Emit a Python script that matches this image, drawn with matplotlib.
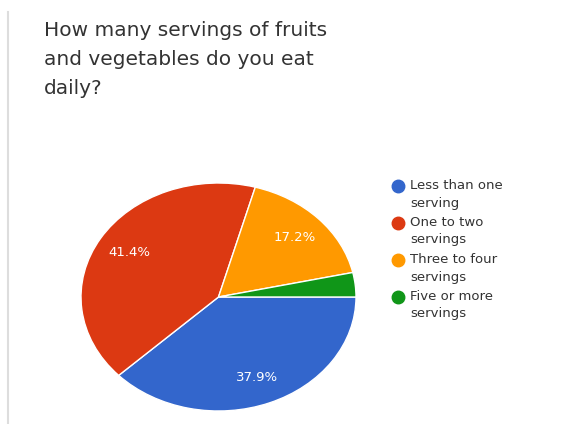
import matplotlib.pyplot as plt
from matplotlib.lines import Line2D

TITLE = "How many servings of fruits\nand vegetables do you eat\ndaily?"
CATEGORIES = [
    "Less than one\nserving",
    "One to two\nservings",
    "Three to four\nservings",
    "Five or more\nservings",
]
COUNTS = [11, 12, 5, 1]
COLORS = ["#3366CC", "#DC3912", "#FF9900", "#109618"]

W, H = 577, 424


def pct_label(p):
    return f"{p:.1f}%" if p > 5 else ""


def main() -> None:
    plt.rcParams["font.family"] = ["DejaVu Sans"]
    fig = plt.figure(figsize=(W / 100, H / 100), dpi=100)

    # faint page border on the left
    fig.add_artist(Line2D([8 / W, 8 / W], [0, 1 - 12 / H], color="#DDDDDD", linewidth=1.5))

    fig.text(44 / W, 1 - 21 / H, TITLE, ha="left", va="top", fontsize=14.5,
             color="#333333", linespacing=1.65)

    # pie is drawn stretched: horizontal radius wider than vertical
    ax = fig.add_axes([81 / W, 1 - 411 / H, 275 / W, 228 / H])
    ax.pie(
        COUNTS,
        colors=COLORS,
        startangle=0,
        counterclock=False,
        autopct=pct_label,
        pctdistance=0.76,
        wedgeprops={"edgecolor": "white", "linewidth": 1.0},
        textprops={"color": "white", "fontsize": 9.5},
    )
    ax.set_aspect("auto")
    ax.set_xlim(-1, 1)
    ax.set_ylim(-1, 1)

    # legend: dot + two-line label, dot aligned with first line
    top, step = 186, 37
    for i, (label, color) in enumerate(zip(CATEGORIES, COLORS)):
        y = 1 - (top + i * step) / H
        fig.add_artist(Line2D([398 / W], [y], marker="o", markersize=9,
                              markerfacecolor=color, markeredgecolor=color,
                              linestyle="none"))
        fig.text(410 / W, y + 7 / H, label, ha="left", va="top", fontsize=9.5,
                 color="#333333", linespacing=1.45)

    fig.savefig("out.png", dpi=100)
    plt.close(fig)


if __name__ == "__main__":
    main()
